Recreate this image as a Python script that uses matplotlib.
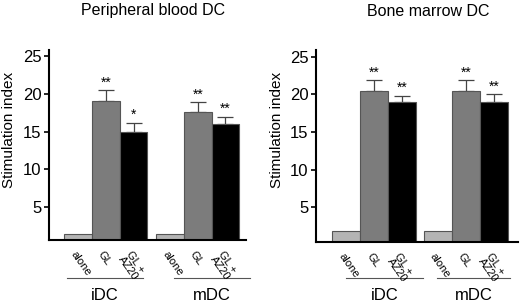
import numpy as np
import matplotlib.pyplot as plt
from matplotlib.transforms import blended_transform_factory

plt.rcParams['font.family'] = ['Liberation Sans', 'DejaVu Sans']

conditions = ['alone', 'GL', 'GL +\nAZ20']
groups = ['iDC', 'mDC']
colors = ['#b4b4b4', '#7c7c7c', '#000000']

# Peripheral blood DC
pb_idc = [1.5, 19.0, 15.0]
pb_idc_err = [0, 1.5, 1.2]
pb_mdc = [1.5, 17.6, 16.0]
pb_mdc_err = [0, 1.3, 1.0]
pb_stars = ['', '**', '*', '', '**', '**']

# Bone marrow DC
bm_idc = [1.8, 20.5, 19.0]
bm_idc_err = [0, 1.4, 0.8]
bm_mdc = [1.8, 20.5, 19.0]
bm_mdc_err = [0, 1.4, 1.0]
bm_stars = ['', '**', '**', '', '**', '**']

yticks = [5, 10, 15, 20, 25]

W, H = 520, 304
fig = plt.figure(figsize=(W / 100, H / 100), dpi=100)


def panel(rect, title, idc, idc_err, mdc, mdc_err, stars, gap, ylim, xlim, lines, titlex, ylabx):
    ax = fig.add_axes(rect)
    vals = idc + mdc
    errs = idc_err + mdc_err
    x = np.r_[np.arange(3), np.arange(3) + gap]
    cols = colors + colors
    for xi, v, e, c in zip(x, vals, errs, cols):
        ax.bar(xi, v, width=1.0, color=c, edgecolor='#555555', linewidth=0.8, zorder=2)
        if e > 0:
            ax.errorbar(xi, v, yerr=[[0], [e]], fmt='none', ecolor='#444444',
                        elinewidth=0.9, capsize=5.5, capthick=0.9, zorder=1)
    for xi, v, e, s in zip(x, vals, errs, stars):
        if s:
            ax.text(xi, v + e + 0.1, s, ha='center', va='bottom', fontsize=10)
    ax.set_xlim(*xlim)
    ax.set_ylim(*ylim)
    ax.set_yticks(yticks)
    ax.tick_params(axis='y', labelsize=12, length=3.5, width=1.2, direction='out', pad=2)
    ax.set_xticks([])
    for sp in ['top', 'right']:
        ax.spines[sp].set_visible(False)
    for sp in ['left', 'bottom']:
        ax.spines[sp].set_linewidth(1.5)
    fig.text(ylabx, 1 - 130 / H, 'Stimulation index', rotation=90,
             ha='center', va='center', fontsize=11)
    tr = ax.get_xaxis_transform()
    for xi, lab in zip(x, conditions * 2):
        ax.text(xi - 0.05, -0.05, lab, rotation=-55, rotation_mode='anchor', ha='left', va='top',
                fontsize=8, linespacing=0.9, transform=tr)
    bt = blended_transform_factory(ax.transData, fig.transFigure)
    for (a, b), g in zip(lines, groups):
        ax.plot([a, b], [1 - 278 / H] * 2, color='#555555', lw=0.8, transform=bt, clip_on=False)
        ax.text((a + b) / 2, 1 - 296 / H, g, ha='center', va='center', fontsize=12, transform=bt)
    fig.text(titlex, 1 - 11 / H, title, ha='center', va='center', fontsize=11.5)
    return ax


panel([49 / W, 1 - 240 / H, 197 / W, 190 / H], 'Peripheral blood DC',
      pb_idc, pb_idc_err, pb_mdc, pb_mdc_err, pb_stars, 3.32,
      (0.66, 25.8), (-1.05, 6.06), [(-0.4, 2.35), (3.47, 6.2)], 153 / W, 9 / W)
panel([316 / W, 1 - 241.7 / H, 202 / W, 191.7 / H], 'Bone marrow DC',
      bm_idc, bm_idc_err, bm_mdc, bm_mdc_err, bm_stars, 3.27,
      (0.44, 25.9), (-1.08, 6.13), [(0.0, 2.73), (3.23, 5.85)], 428 / W, 277 / W)

fig.savefig('out.png', dpi=100)
